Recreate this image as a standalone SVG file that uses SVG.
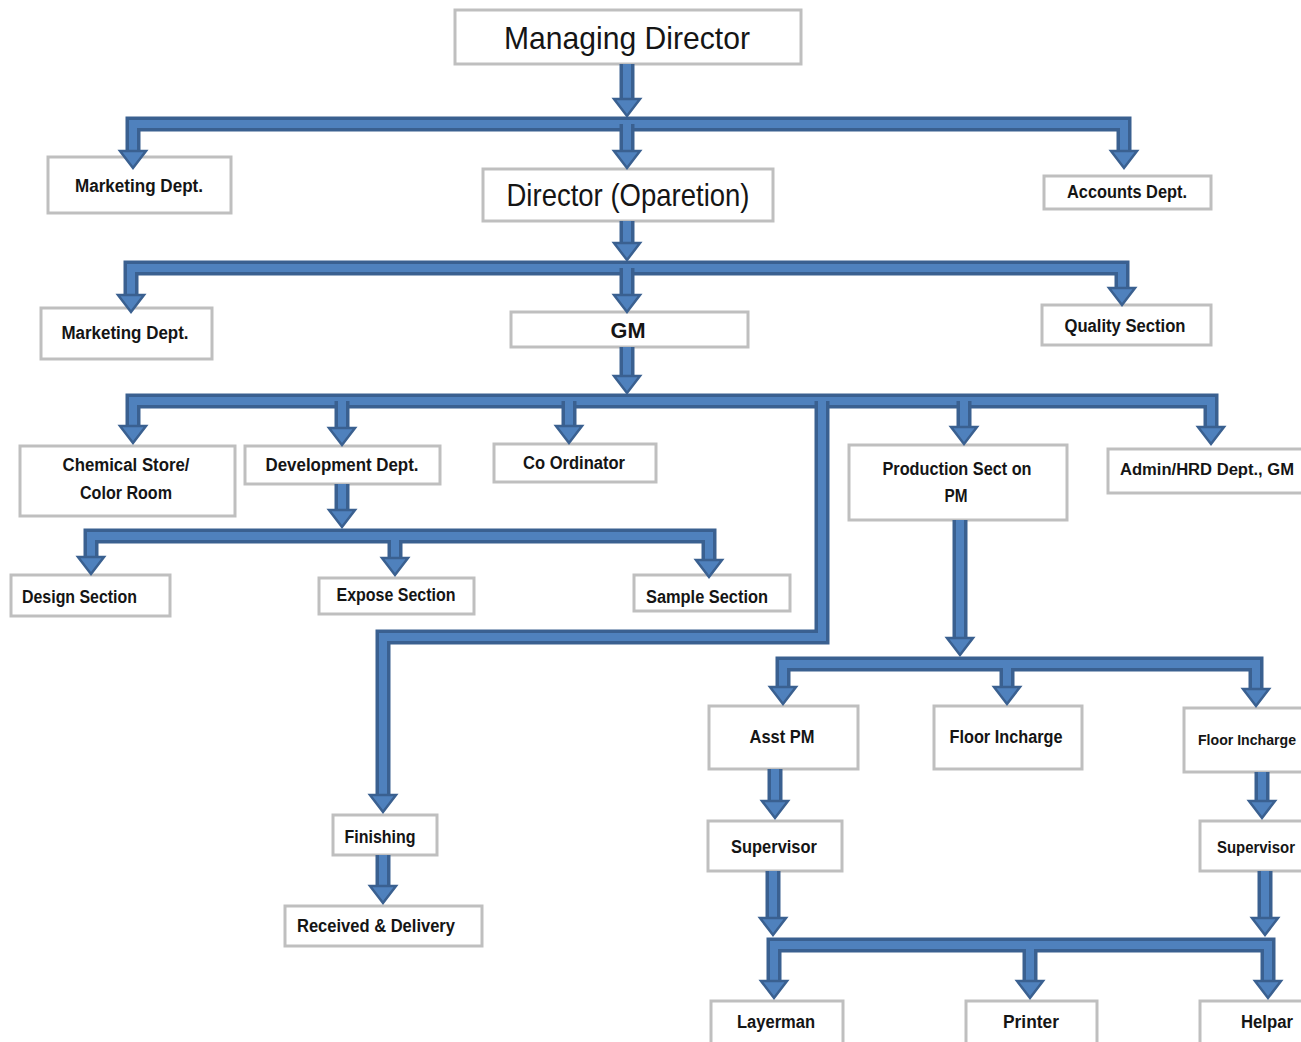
<svg xmlns="http://www.w3.org/2000/svg" xmlns:xlink="http://www.w3.org/1999/xlink" width="1301" height="1042" viewBox="0 0 1301 1042">
<style>
.b{fill:#fff;stroke:#bfbfbf;stroke-width:3}
.o{fill:none;stroke:#3a6090;stroke-width:15;stroke-linejoin:miter}
.i{fill:none;stroke:#4f81bd;stroke-width:8;stroke-linejoin:miter}
.h{fill:#4f81bd;stroke:#3a6090;stroke-width:2.5;stroke-linejoin:miter}
.t{font-family:"Liberation Sans",Arial,sans-serif;font-weight:bold;font-size:18px;fill:#151515;text-anchor:middle}
.tl{font-family:"Liberation Sans",Arial,sans-serif;font-size:32px;fill:#151515;text-anchor:middle}
</style>
<defs>
<path id="ah" d="M-13 -17 H13 L0 0 Z"/>
<path id="c1" d="M627 64 V102"/>
<path id="c2" d="M133 156 V124 H1124 V156"/>
<path id="c3" d="M627 124 V156"/>
<path id="c4" d="M627 221 V246"/>
<path id="c5" d="M131 300 V268 H1122 V293"/>
<path id="c6" d="M627 268 V300"/>
<path id="c7" d="M627 347 V380"/>
<path id="c8" d="M133 431 V401 H1211 V432"/>
<path id="c9" d="M342 401 V433 M569 401 V431 M964 401 V432"/>
<path id="c10" d="M822 401 V637 H383 V800"/>
<path id="c11" d="M342 484 V515"/>
<path id="c12" d="M91 562 V536 H709 V565 M395 536 V563"/>
<path id="c13" d="M383 855 V891"/>
<path id="c14" d="M960 520 V643"/>
<path id="c15" d="M783 692 V664 H1256 V694 M1007 664 V692"/>
<path id="c16" d="M775 769 V806 M1262 772 V806"/>
<path id="c17" d="M773 871 V923 M1265 871 V923"/>
<path id="c18" d="M774 986 V945 H1268 V986 M1030 945 V986"/>
</defs>
<g id="n-md"><rect class="b" x="455" y="10" width="346" height="54"/><text class="tl" x="627" y="49" textLength="246" lengthAdjust="spacingAndGlyphs">Managing Director</text></g>
<g id="n-mkt1"><rect class="b" x="48" y="157" width="183" height="56"/><text class="t" x="139" y="192" textLength="128" lengthAdjust="spacingAndGlyphs">Marketing Dept.</text></g>
<g id="n-dir"><rect class="b" x="483" y="169" width="290" height="52"/><text class="tl" x="628" y="206" textLength="243" lengthAdjust="spacingAndGlyphs">Director (Oparetion)</text></g>
<g id="n-acc"><rect class="b" x="1044" y="176" width="167" height="33"/><text class="t" x="1127" y="198" textLength="120" lengthAdjust="spacingAndGlyphs">Accounts Dept.</text></g>
<g id="n-mkt2"><rect class="b" x="41" y="308" width="171" height="51"/><text class="t" x="125" y="339" textLength="127" lengthAdjust="spacingAndGlyphs">Marketing Dept.</text></g>
<g id="n-gm"><rect class="b" x="511" y="312" width="237" height="35"/><text class="t" x="628" y="338" style="font-size:22px" textLength="35" lengthAdjust="spacingAndGlyphs">GM</text></g>
<g id="n-qual"><rect class="b" x="1042" y="305" width="169" height="40"/><text class="t" x="1125" y="332" textLength="121" lengthAdjust="spacingAndGlyphs">Quality Section</text></g>
<g id="n-chem"><rect class="b" x="20" y="446" width="215" height="70"/><text class="t" x="126" y="471" textLength="127" lengthAdjust="spacingAndGlyphs">Chemical Store/</text><text class="t" x="126" y="499" textLength="92" lengthAdjust="spacingAndGlyphs">Color Room</text></g>
<g id="n-dev"><rect class="b" x="245" y="446" width="195" height="38"/><text class="t" x="342" y="471" textLength="153" lengthAdjust="spacingAndGlyphs">Development Dept.</text></g>
<g id="n-coord"><rect class="b" x="494" y="444" width="162" height="38"/><text class="t" x="574" y="469" textLength="102" lengthAdjust="spacingAndGlyphs">Co Ordinator</text></g>
<g id="n-prod"><rect class="b" x="849" y="445" width="218" height="75"/><text class="t" x="957" y="475" textLength="149" lengthAdjust="spacingAndGlyphs">Production Sect on</text><text class="t" x="956" y="502" textLength="23" lengthAdjust="spacingAndGlyphs">PM</text></g>
<g id="n-admin"><rect class="b" x="1108" y="449" width="205" height="44"/><text class="t" x="1207" y="475" style="font-size:16px" textLength="174" lengthAdjust="spacingAndGlyphs">Admin/HRD Dept., GM</text></g>
<g id="n-design"><rect class="b" x="11" y="575" width="159" height="41"/><text class="t" x="79.5" y="603" textLength="115" lengthAdjust="spacingAndGlyphs">Design Section</text></g>
<g id="n-expose"><rect class="b" x="319" y="578" width="155" height="36"/><text class="t" x="396" y="601" textLength="119" lengthAdjust="spacingAndGlyphs">Expose Section</text></g>
<g id="n-sample"><rect class="b" x="634" y="575" width="156" height="36"/><text class="t" x="707" y="603" textLength="122" lengthAdjust="spacingAndGlyphs">Sample Section</text></g>
<g id="n-fin"><rect class="b" x="333" y="815" width="104" height="40"/><text class="t" x="380" y="843" textLength="71" lengthAdjust="spacingAndGlyphs">Finishing</text></g>
<g id="n-rd"><rect class="b" x="285" y="906" width="197" height="40"/><text class="t" x="376" y="932" textLength="158" lengthAdjust="spacingAndGlyphs">Received &amp; Delivery</text></g>
<g id="n-asst"><rect class="b" x="709" y="706" width="149" height="63"/><text class="t" x="782" y="743" textLength="65" lengthAdjust="spacingAndGlyphs">Asst PM</text></g>
<g id="n-floor1"><rect class="b" x="934" y="706" width="148" height="63"/><text class="t" x="1006" y="743" textLength="113" lengthAdjust="spacingAndGlyphs">Floor Incharge</text></g>
<g id="n-floor2"><rect class="b" x="1184" y="708" width="130" height="64"/><text class="t" x="1247" y="745" style="font-size:14.5px" textLength="98" lengthAdjust="spacingAndGlyphs">Floor Incharge</text></g>
<g id="n-sup1"><rect class="b" x="708" y="821" width="134" height="50"/><text class="t" x="774" y="853" textLength="86" lengthAdjust="spacingAndGlyphs">Supervisor</text></g>
<g id="n-sup2"><rect class="b" x="1200" y="821" width="114" height="50"/><text class="t" x="1256" y="853" style="font-size:16px" textLength="78" lengthAdjust="spacingAndGlyphs">Supervisor</text></g>
<g id="n-layer"><rect class="b" x="711" y="1001" width="132" height="45"/><text class="t" x="776" y="1028" textLength="78" lengthAdjust="spacingAndGlyphs">Layerman</text></g>
<g id="n-printer"><rect class="b" x="966" y="1001" width="131" height="45"/><text class="t" x="1031" y="1028" textLength="56" lengthAdjust="spacingAndGlyphs">Printer</text></g>
<g id="n-helpar"><rect class="b" x="1200" y="1001" width="110" height="45"/><text class="t" x="1267" y="1028" textLength="52" lengthAdjust="spacingAndGlyphs">Helpar</text></g>
<g id="connectors">
<use href="#c2" class="o"/><use href="#c2" class="i"/>
<use href="#c3" class="o"/><use href="#c3" class="i"/>
<use href="#c1" class="o"/><use href="#c1" class="i"/>
<use href="#c5" class="o"/><use href="#c5" class="i"/>
<use href="#c6" class="o"/><use href="#c6" class="i"/>
<use href="#c4" class="o"/><use href="#c4" class="i"/>
<use href="#c8" class="o"/><use href="#c8" class="i"/>
<use href="#c9" class="o"/><use href="#c9" class="i"/>
<use href="#c10" class="o"/><use href="#c10" class="i"/>
<use href="#c7" class="o"/><use href="#c7" class="i"/>
<use href="#c12" class="o"/><use href="#c12" class="i"/>
<use href="#c11" class="o"/><use href="#c11" class="i"/>
<use href="#c13" class="o"/><use href="#c13" class="i"/>
<use href="#c15" class="o"/><use href="#c15" class="i"/>
<use href="#c14" class="o"/><use href="#c14" class="i"/>
<use href="#c16" class="o"/><use href="#c16" class="i"/>
<use href="#c18" class="o"/><use href="#c18" class="i"/>
<use href="#c17" class="o"/><use href="#c17" class="i"/>
<use href="#ah" class="h" x="627" y="116"/>
<use href="#ah" class="h" x="133" y="168"/>
<use href="#ah" class="h" x="627" y="168"/>
<use href="#ah" class="h" x="1124" y="168"/>
<use href="#ah" class="h" x="627" y="260"/>
<use href="#ah" class="h" x="131" y="312"/>
<use href="#ah" class="h" x="627" y="312"/>
<use href="#ah" class="h" x="1122" y="305"/>
<use href="#ah" class="h" x="627" y="393"/>
<use href="#ah" class="h" x="133" y="443"/>
<use href="#ah" class="h" x="342" y="445"/>
<use href="#ah" class="h" x="569" y="443"/>
<use href="#ah" class="h" x="964" y="444"/>
<use href="#ah" class="h" x="1211" y="444"/>
<use href="#ah" class="h" x="383" y="812"/>
<use href="#ah" class="h" x="342" y="527"/>
<use href="#ah" class="h" x="91" y="574"/>
<use href="#ah" class="h" x="395" y="575"/>
<use href="#ah" class="h" x="709" y="577"/>
<use href="#ah" class="h" x="383" y="903"/>
<use href="#ah" class="h" x="960" y="655"/>
<use href="#ah" class="h" x="783" y="704"/>
<use href="#ah" class="h" x="1007" y="704"/>
<use href="#ah" class="h" x="1256" y="706"/>
<use href="#ah" class="h" x="775" y="818"/>
<use href="#ah" class="h" x="1262" y="818"/>
<use href="#ah" class="h" x="773" y="935"/>
<use href="#ah" class="h" x="1265" y="935"/>
<use href="#ah" class="h" x="774" y="998"/>
<use href="#ah" class="h" x="1030" y="998"/>
<use href="#ah" class="h" x="1268" y="998"/>
</g>
</svg>
